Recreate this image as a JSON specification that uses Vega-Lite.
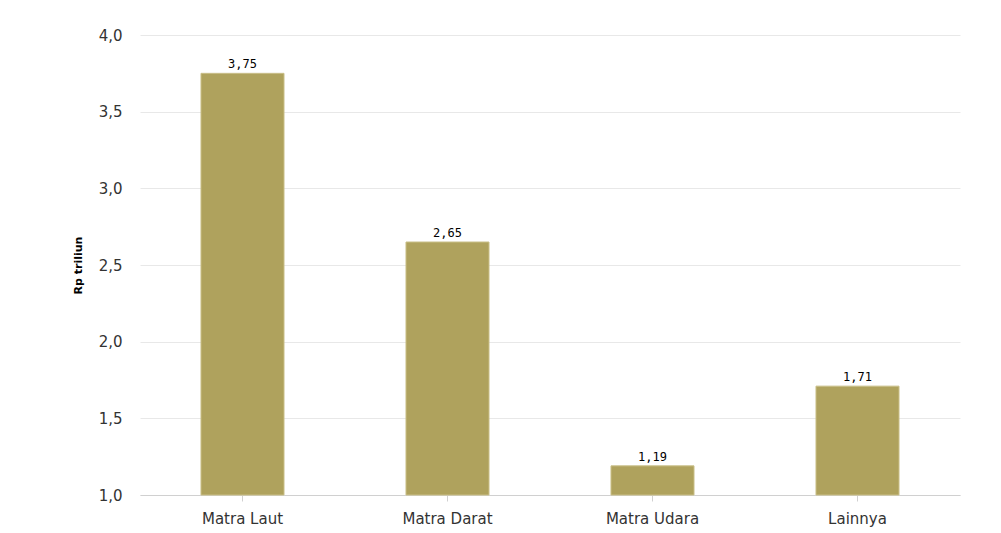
{
  "$schema": "https://vega.github.io/schema/vega-lite/v6.json",
  "width": 820,
  "height": 460,
  "autosize": "none",
  "padding": {"left": 140, "top": 35, "right": 41, "bottom": 38},
  "background": "white",
  "config": {
    "locale": {"number": {"decimal": ",", "thousands": ".", "grouping": [3], "currency": ["Rp", ""]}},
    "view": {"stroke": null},
    "font": "DejaVu Sans"
  },
  "data": {
    "values": [
      {"kategori": "Matra Laut", "nilai": 3.75},
      {"kategori": "Matra Darat", "nilai": 2.65},
      {"kategori": "Matra Udara", "nilai": 1.19},
      {"kategori": "Lainnya", "nilai": 1.71}
    ]
  },
  "encoding": {
    "x": {
      "field": "kategori",
      "type": "nominal",
      "sort": null,
      "scale": {"paddingInner": 0.595, "paddingOuter": 0.2975},
      "axis": {
        "title": null,
        "labelAngle": 0,
        "labelFontSize": 15,
        "labelColor": "#333333",
        "labelPadding": 10,
        "domainColor": "#d0d0d0",
        "tickColor": "#d0d0d0",
        "tickSize": 6,
        "grid": false
      }
    },
    "y": {
      "field": "nilai",
      "type": "quantitative",
      "scale": {"domain": [1, 4], "zero": false, "nice": false},
      "axis": {
        "title": "Rp triliun",
        "titleFontSize": 11,
        "titleFontWeight": "bold",
        "titleColor": "#000000",
        "titlePadding": 15,
        "values": [1, 1.5, 2, 2.5, 3, 3.5, 4],
        "format": ".1f",
        "labelFontSize": 15,
        "labelColor": "#333333",
        "labelPadding": 18,
        "ticks": false,
        "domain": false,
        "gridColor": "#e8e8e8"
      }
    }
  },
  "layer": [
    {
      "mark": {"type": "bar", "color": "#afa25d", "stroke": "#c9bf88", "strokeWidth": 1},
      "encoding": {"y2": {"datum": 1}}
    },
    {
      "mark": {"type": "text", "baseline": "bottom", "dy": -2, "fontSize": 12, "font": "DejaVu Sans Mono", "color": "#000000"},
      "encoding": {
        "text": {"field": "nilai", "type": "quantitative", "format": ".2f"}
      }
    }
  ]
}
